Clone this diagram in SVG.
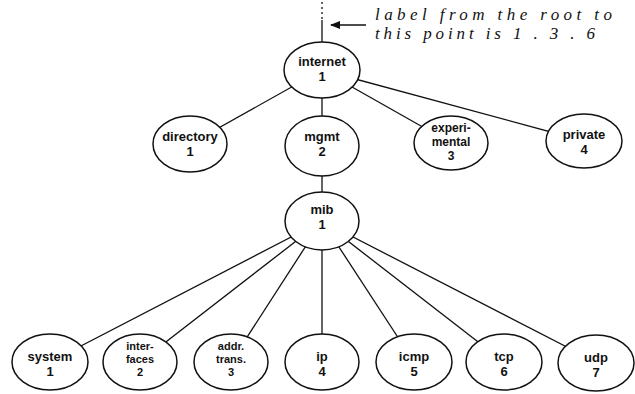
<svg xmlns="http://www.w3.org/2000/svg" width="635" height="394" viewBox="0 0 635 394">
<style>
.n ellipse{fill:#fff;stroke:#111;stroke-width:1.5}
.n text{font-family:"Liberation Sans",Arial,sans-serif;font-weight:bold;font-size:13px;fill:#111;text-anchor:middle}
.n text.s{font-size:11px}
.n text.e{font-size:12px}
.c line{stroke:#111;stroke-width:1.3}
.lbl{font-family:"Liberation Serif","Times New Roman",serif;font-style:italic;font-size:17px;fill:#111}
</style>
<defs>
<marker id="ah" markerWidth="10" markerHeight="8" refX="9" refY="4" orient="auto" markerUnits="userSpaceOnUse">
<path d="M0,0 L10,4 L0,8 Z" fill="#111"/>
</marker>
</defs>
<g id="connectors" class="c">
<line x1="322" y1="2" x2="322" y2="20" stroke-dasharray="2,3"/>
<line x1="322" y1="20" x2="322" y2="44"/>
<line x1="366" y1="25" x2="331" y2="25" marker-end="url(#ah)"/>
<line x1="322" y1="70" x2="190" y2="144"/>
<line x1="322" y1="70" x2="322" y2="146"/>
<line x1="322" y1="70" x2="451" y2="143"/>
<line x1="322" y1="70" x2="584" y2="141"/>
<line x1="322" y1="146" x2="322" y2="221"/>
<line x1="322" y1="221" x2="50" y2="362"/>
<line x1="322" y1="221" x2="140" y2="362"/>
<line x1="322" y1="221" x2="231" y2="362"/>
<line x1="322" y1="221" x2="322" y2="362"/>
<line x1="322" y1="221" x2="414" y2="362"/>
<line x1="322" y1="221" x2="504" y2="362"/>
<line x1="322" y1="221" x2="596" y2="362"/>
</g>
<g id="note">
<text class="lbl" x="375" y="20" textLength="237" lengthAdjust="spacing">label from the root to</text>
<text class="lbl" x="375" y="39" textLength="220" lengthAdjust="spacing">this point is 1 . 3 . 6</text>
</g>
<g id="internet" class="n"><ellipse cx="322" cy="70" rx="38" ry="28"/><text x="322" y="66">internet</text><text x="322" y="81">1</text></g>
<g id="directory" class="n"><ellipse cx="190" cy="144" rx="37" ry="28"/><text x="190" y="141">directory</text><text x="190" y="156">1</text></g>
<g id="mgmt" class="n"><ellipse cx="322" cy="146" rx="37" ry="30"/><text x="322" y="141">mgmt</text><text x="322" y="156">2</text></g>
<g id="experimental" class="n"><ellipse cx="451" cy="143" rx="37" ry="27"/><text class="e" x="451" y="132">experi-</text><text class="e" x="451" y="146">mental</text><text class="e" x="451" y="160">3</text></g>
<g id="private" class="n"><ellipse cx="584" cy="141" rx="38" ry="27"/><text x="584" y="139">private</text><text x="584" y="154">4</text></g>
<g id="mib" class="n"><ellipse cx="322" cy="221" rx="37" ry="29"/><text x="322" y="214">mib</text><text x="322" y="229">1</text></g>
<g id="system" class="n"><ellipse cx="50" cy="362" rx="38" ry="28"/><text x="50" y="361">system</text><text x="50" y="376">1</text></g>
<g id="interfaces" class="n"><ellipse cx="140" cy="362" rx="37" ry="28"/><text class="s" x="140" y="350">inter-</text><text class="s" x="140" y="363">faces</text><text class="s" x="140" y="376">2</text></g>
<g id="addrtrans" class="n"><ellipse cx="231" cy="362" rx="37" ry="28"/><text class="s" x="231" y="350">addr.</text><text class="s" x="231" y="363">trans.</text><text class="s" x="231" y="376">3</text></g>
<g id="ip" class="n"><ellipse cx="322" cy="362" rx="37" ry="28"/><text x="322" y="361">ip</text><text x="322" y="376">4</text></g>
<g id="icmp" class="n"><ellipse cx="414" cy="362" rx="38" ry="28"/><text x="414" y="361">icmp</text><text x="414" y="376">5</text></g>
<g id="tcp" class="n"><ellipse cx="504" cy="362" rx="38" ry="28"/><text x="504" y="361">tcp</text><text x="504" y="376">6</text></g>
<g id="udp" class="n"><ellipse cx="596" cy="363" rx="38" ry="28"/><text x="596" y="362">udp</text><text x="596" y="377">7</text></g>
</svg>
